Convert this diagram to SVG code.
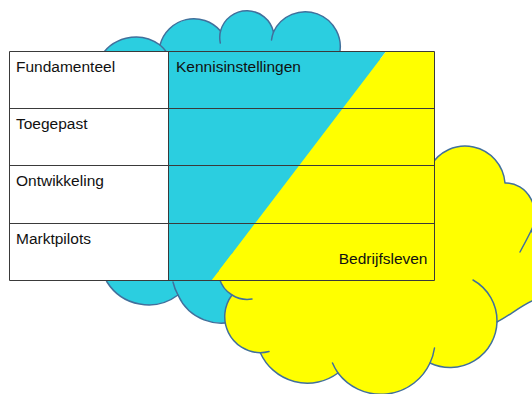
<svg xmlns="http://www.w3.org/2000/svg" width="532" height="394" viewBox="0 0 532 394">
<style>
.cloud{stroke:#41709c;stroke-width:1.5;stroke-linejoin:round}
.crease{fill:none;stroke:#41709c;stroke-width:1.5;stroke-linecap:round}
.grid{stroke:#3a3a3a;stroke-width:1;fill:none}
.lbl{font-family:"Liberation Sans",Arial,sans-serif;font-size:15.5px;fill:#111}
</style>
<rect width="532" height="394" fill="#fff"/>
<g id="cloud-kennisinstellingen">
<path class="cloud" fill="#2bcee0" d="M 99,60 A 41 41 0 0 1 160,45 A 35 35 0 0 1 220.5,31 A 27.3 27.3 0 0 1 273.5,32 A 35 35 0 0 1 339,56 L 380,60 L 380,275 L 240,319 A 47 47 0 0 1 178,295 A 49 49 0 0 1 107,282 L 101,270 Z"/>
<path class="crease" d="M 160,45 A 41 41 0 0 1 166,51.5 M 220.5,31 A 27.3 27.3 0 0 0 220.3,43 M 273.5,32 A 35 35 0 0 0 271.5,40 M 178,295 A 47 47 0 0 1 173,282"/>
</g>
<g id="cloud-bedrijfsleven">
<path class="cloud" fill="#ffff00" d="M 430,167 A 40 40 0 0 1 505,183 A 29 32 0 0 1 531,231 C 548,245 556,290 532,301 C 521,306 507,317 497,322 A 47 47 0 0 1 430,363 A 54 54 0 0 1 338,373 A 51.5 51.5 0 0 1 260.3,352.7 A 36 36 0 0 1 232,295 A 29 29 0 0 1 221,258 Z"/>
<path class="crease" d="M 520,252 Q 526,241 531,231 M 473,280 A 47 47 0 0 1 497,322 M 430,363 A 54 54 0 0 0 434.5,348 M 338,373 A 54 54 0 0 1 332.5,363 M 260.3,352.7 A 36 36 0 0 0 269,351.5 M 232,295 A 29 29 0 0 0 252,299"/>
</g>
<g id="table">
<rect x="9.5" y="51.5" width="159" height="229" fill="#fff"/>
<polygon points="168.5,51.5 386,51.5 211.5,280.5 168.5,280.5" fill="#2bcee0"/>
<polygon points="386,51.5 434.5,51.5 434.5,280.5 211.5,280.5" fill="#ffff00"/>
<path class="grid" d="M 9.5,51.5 H 434.5 V 280.5 H 9.5 Z M 9.5,108.5 H 434.5 M 9.5,165.5 H 434.5 M 9.5,223.5 H 434.5 M 168.5,51.5 V 280.5"/>
<g id="row-fundamenteel"><text class="lbl" x="16" y="72">Fundamenteel</text></g>
<g id="row-toegepast"><text class="lbl" x="16" y="128.5">Toegepast</text></g>
<g id="row-ontwikkeling"><text class="lbl" x="16" y="186">Ontwikkeling</text></g>
<g id="row-marktpilots"><text class="lbl" x="16" y="243.5">Marktpilots</text></g>
<g id="label-kennis"><text class="lbl" x="176" y="72">Kennisinstellingen</text></g>
<g id="label-bedrijf"><text class="lbl" x="427.5" y="263.5" text-anchor="end">Bedrijfsleven</text></g>
</g>
</svg>
